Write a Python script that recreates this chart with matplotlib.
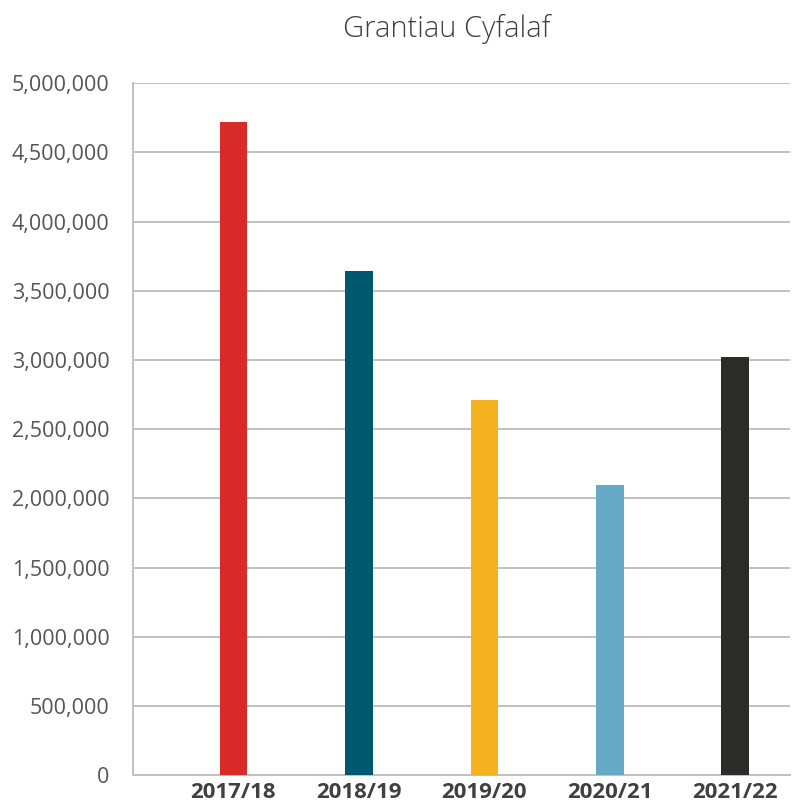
import numpy as np
import matplotlib.pyplot as plt
from matplotlib.ticker import FuncFormatter

# data
years = ['2017/18', '2018/19', '2019/20', '2020/21', '2021/22']
grants = [4720000, 3640000, 2710000, 2100000, 3025000]
colours = ['#d92b27', '#00586f', '#f4b120', '#66a9c4', '#2b2b2a']

plt.rcParams['font.family'] = ['Open Sans', 'DejaVu Sans']

fig = plt.figure(figsize=(7.92, 8.09), dpi=100)
ax = fig.add_axes([0.168, 0.042, 0.83, 0.855])

x = np.arange(len(years))
ax.bar(x, grants, width=0.22, color=colours, zorder=3)

ax.set_ylim(0, 5000000)
ax.set_yticks(np.arange(0, 5000001, 500000))
ax.yaxis.set_major_formatter(FuncFormatter(lambda v, p: f'{int(v):,}'))
ax.set_xlim(-0.80, 4.44)
ax.set_xticks(x)
ax.set_xticklabels(years, fontweight='bold')

ax.grid(axis='y', color='#c0c0c0', linewidth=1.4, zorder=0)
for s in ['top', 'right']:
    ax.spines[s].set_visible(False)
for s in ['left', 'bottom']:
    ax.spines[s].set_color('#c0c0c0')
    ax.spines[s].set_linewidth(1.4)

ax.tick_params(axis='y', length=0, pad=17, labelsize=15.5, labelcolor='#555555')
ax.tick_params(axis='x', length=0, pad=5, labelsize=16, labelcolor='#404040')

fig.text(0.5635, 0.964, 'Grantiau Cyfalaf', ha='center', va='center',
         fontsize=21, fontweight='light', color='#404040')

fig.savefig('out.png', dpi=100)
